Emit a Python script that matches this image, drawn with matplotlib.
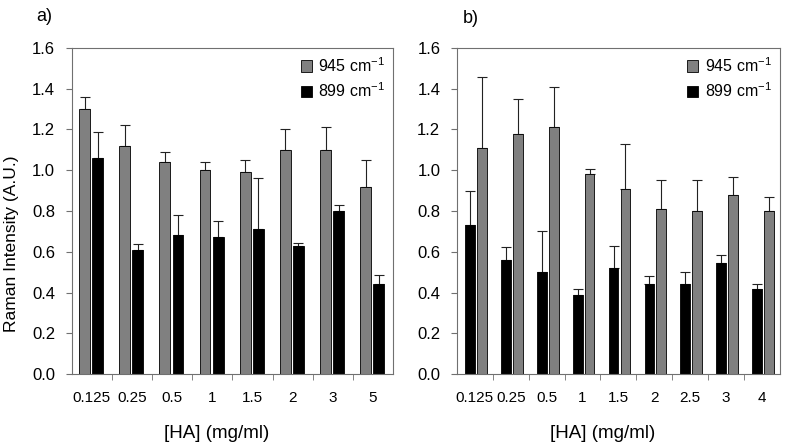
# Raman intensity vs HA concentration, two panels

import numpy as np
import matplotlib
matplotlib.use("Agg")
import matplotlib.pyplot as plt

plt.rcParams['font.family'] = ['Liberation Sans', 'DejaVu Sans']
plt.rcParams['mathtext.fontset'] = 'custom'
plt.rcParams['mathtext.rm'] = 'Liberation Sans'
plt.rcParams['mathtext.it'] = 'Liberation Sans'

#--------------------------------------
# panel a
a_labels = ['0.125', '0.25', '0.5', '1', '1.5', '2', '3', '5']
a_945 = [1.30, 1.12, 1.04, 1.00, 0.99, 1.10, 1.10, 0.92]
a_945_err = [0.06, 0.10, 0.05, 0.04, 0.06, 0.10, 0.11, 0.13]
a_899 = [1.06, 0.61, 0.68, 0.67, 0.71, 0.63, 0.80, 0.44]
a_899_err = [0.13, 0.03, 0.10, 0.08, 0.25, 0.015, 0.03, 0.045]

# panel b
b_labels = ['0.125', '0.25', '0.5', '1', '1.5', '2', '2.5', '3', '4']
b_945 = [1.11, 1.18, 1.21, 0.98, 0.91, 0.81, 0.80, 0.88, 0.80]
b_945_err = [0.35, 0.17, 0.20, 0.025, 0.22, 0.14, 0.15, 0.085, 0.07]
b_899 = [0.73, 0.56, 0.50, 0.39, 0.52, 0.44, 0.44, 0.545, 0.415]
b_899_err = [0.17, 0.065, 0.20, 0.025, 0.11, 0.04, 0.06, 0.04, 0.025]
#--------------------------------------

gray = "#808080"
frame = "#707070"
w = 0.27

fig = plt.figure(figsize=(7.87, 4.46), dpi=100)
ax1 = fig.add_axes([0.0911, 0.1614, 0.4083, 0.731])
ax2 = fig.add_axes([0.5807, 0.1614, 0.4098, 0.731])


def draw(ax, labels, v945, e945, v899, e899, off945, off899):
    x = np.arange(len(labels))
    ax.bar(x + off945, v945, w, color=gray, edgecolor="black", linewidth=0.6,
           label="945 cm$^{-1}$", zorder=2)
    ax.bar(x + off899, v899, w, color="black", edgecolor="black", linewidth=0.6,
           label="899 cm$^{-1}$", zorder=2)
    ax.errorbar(x + off945, v945, yerr=[np.zeros(len(x)), e945], fmt="none",
                ecolor="#222222", elinewidth=0.8, capsize=3.5, capthick=0.8, zorder=1)
    ax.errorbar(x + off899, v899, yerr=[np.zeros(len(x)), e899], fmt="none",
                ecolor="#222222", elinewidth=0.8, capsize=3.5, capthick=0.8, zorder=1)

    ax.set_xlim(-0.5, len(x) - 0.5)
    ax.set_ylim(0, 1.6)
    ax.set_yticks(np.arange(0, 1.61, 0.2))
    ax.set_yticklabels(["%.1f" % t for t in np.arange(0, 1.61, 0.2)], fontsize=12)
    ax.set_xticks(x)
    ax.set_xticklabels(labels, fontsize=11)
    ax.tick_params(axis='x', length=0, pad=12)
    ax.set_xticks(np.arange(0.5, len(x) - 0.5, 1), minor=True)
    ax.tick_params(axis='x', which='minor', length=4, color=frame)
    ax.tick_params(axis='y', length=4, color=frame, pad=8)
    for s in ax.spines.values():
        s.set_color(frame)
        s.set_linewidth(0.8)
    ax.set_xlabel("[HA] (mg/ml)", fontsize=13.5)
    ax.xaxis.set_label_coords(0.452, -0.155)
    ax.legend(loc="upper right", frameon=False, fontsize=11.5, handlelength=0.7,
              handleheight=0.7, handletextpad=0.4, labelspacing=0.4,
              borderaxespad=0.1)


draw(ax1, a_labels, a_945, a_945_err, a_899, a_899_err, -0.18, 0.145)
draw(ax2, b_labels, b_945, b_945_err, b_899, b_899_err, 0.20, -0.13)

ax1.set_ylabel("Raman Intensity (A.U.)", fontsize=12.5)
ax1.yaxis.set_label_coords(-0.165, 0.4)

fig.text(0.046, 0.982, "a)", fontsize=13, va="top")
fig.text(0.588, 0.978, "b)", fontsize=13, va="top")

plt.savefig("out.png", dpi=100)
